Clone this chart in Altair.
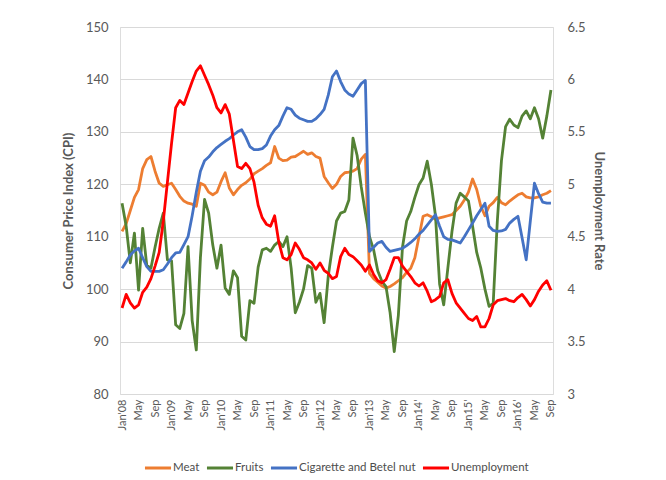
import json
import altair as alt
import pandas as pd

FONT = "Lato"
GREY = "#595959"

tick_labels = ["Jan'08", "May", "Sep", "Jan'09", "May", "Sep", "Jan'10", "May", "Sep",
               "Jan'11", "May", "Sep", "Jan'12", "May", "Sep", "Jan'13", "May", "Sep",
               "Jan14'", "May", "Sep", "Jan15'", "May", "Sep", "Jan16'", "May", "Sep"]

series_names = ["Meat", "Fruits", "Cigarette and Betel nut", "Unemployment"]
series_colors = ["#ED7D31", "#548235", "#4472C4", "#FF0000"]

meat = [111, 112.5, 115, 117.5, 119, 123, 124.7, 125.3, 122.5, 120.2,
        119.6, 119.9, 120.2, 119, 117.7, 116.8, 116.4, 116.2, 115.8, 120.2,
        119.8, 118.5, 118, 118.5, 120.5, 122.2, 119.3, 118, 119, 119.8,
        120.3, 121, 122, 122.5, 123, 123.6, 124.1, 127.2, 125, 124.5,
        124.6, 125.2, 125.3, 125.8, 126.3, 125.7, 126, 125.3, 125, 121.5,
        120.3, 119.2, 120, 121.5, 122.2, 122.3, 122.5, 123, 124.8, 125.7,
        103, 102, 101.3, 100.6, 100.2, 100.5, 101, 101.6, 102.2, 103.2,
        104, 106, 110, 113.9, 114.2, 113.8, 113.3, 113.6, 113.8, 114,
        114.2, 115, 115.8, 117, 118.5, 121, 119, 115.8, 114, 115.8,
        116.5, 117.5, 116.5, 116.1, 116.8, 117.4, 118, 118.3, 117.6, 117.4,
        117.4, 117.6, 118, 118.3, 118.8]

fruits = [116.4, 112, 105, 110.7, 99.8, 111.6, 104.5, 104, 108, 111.6,
          114.5, 105.6, 105.4, 93.2, 92.5, 95.4, 108.1, 94, 88.4, 106,
          117.1, 114.5, 108.4, 104, 108.4, 100.2, 99, 103.5, 102.2, 91,
          90.3, 97.8, 97.3, 104.2, 107.5, 107.8, 107.2, 108.4, 109.1, 108.1,
          110, 104, 95.5, 97.5, 100, 104.5, 104, 97.5, 99.2, 93.6,
          102.5, 108, 113, 114.5, 114.8, 117, 128.8, 125.5, 119.5, 114.5,
          110, 107.5, 103.5, 101.5, 100.5, 95.5, 88.1, 95, 108, 113,
          114.8, 117.5, 119.9, 121.2, 124.4, 120, 114, 101, 97, 104,
          111, 116.4, 118.3, 117.6, 116.8, 112, 107, 104, 100, 96.7,
          97.3, 113, 124.5, 131, 132.4, 131.3, 130.8, 133, 134, 132.5,
          134.6, 132.5, 128.8, 133, 138]

cigarette = [104, 105.2, 106.5, 107.3, 107.8, 106, 104.3, 103.4, 103.4, 103.4,
             103.7, 104.8, 106, 106.9, 107, 108.5, 110, 114, 118.5, 122.5,
             124.5, 125.2, 126.2, 127, 127.6, 128.2, 128.7, 129.4, 130, 130.4,
             129, 127.2, 126.6, 126.6, 126.8, 127.5, 129.2, 130.4, 131.2, 133,
             134.6, 134.3, 133.2, 132.6, 132.3, 132, 132, 132.5, 133.3, 134.3,
             137, 140.5, 141.6, 139.6, 138, 137.2, 136.8, 138, 139.2, 139.8,
             107.2, 108, 108.8, 109.1, 108, 107.2, 107.4, 107.6, 107.8, 108.3,
             108.9, 109.6, 110.5, 111.2, 112.2, 113.2, 114.2, 112, 110, 109.5,
             109.4, 109.1, 108.8, 110, 111.3, 112.6, 114, 115.2, 116.4, 112,
             111.2, 111, 111.1, 111.4, 112.6, 113.3, 113.9, 109.8, 105.6, 113,
             120.2, 118.2, 116.6, 116.4, 116.4]

unemployment = [3.82, 3.95, 3.87, 3.82, 3.85, 3.97, 4.02, 4.10, 4.22, 4.35,
                4.65, 5.02, 5.39, 5.73, 5.80, 5.76, 5.87, 5.98, 6.08, 6.13,
                6.04, 5.95, 5.85, 5.73, 5.68, 5.76, 5.67, 5.42, 5.17, 5.15,
                5.20, 5.15, 5.02, 4.80, 4.68, 4.62, 4.60, 4.70, 4.45, 4.30,
                4.28, 4.33, 4.44, 4.38, 4.30, 4.28, 4.25, 4.19, 4.25, 4.18,
                4.15, 4.10, 4.12, 4.31, 4.39, 4.33, 4.31, 4.27, 4.23, 4.17,
                4.23, 4.14, 4.08, 4.06, 4.09, 4.19, 4.30, 4.30, 4.22, 4.17,
                4.12, 4.06, 4.03, 4.06, 3.98, 3.88, 3.90, 3.93, 4.06, 4.09,
                3.96, 3.87, 3.82, 3.77, 3.72, 3.70, 3.74, 3.64, 3.64, 3.72,
                3.85, 3.89, 3.90, 3.91, 3.89, 3.88, 3.92, 3.95, 3.90, 3.84,
                3.90, 3.98, 4.04, 4.08, 3.99]

n = len(meat)
months = list(range(n))

df_left = pd.DataFrame({
    "month": months * 3,
    "value": meat + fruits + cigarette,
    "series": [series_names[0]] * n + [series_names[1]] * n + [series_names[2]] * n,
    "order": [0] * n + [1] * n + [2] * n,
})
df_right = pd.DataFrame({
    "month": months,
    "value": unemployment,
    "series": [series_names[3]] * n,
})

label_expr = "[" + ",".join(json.dumps(t) for t in tick_labels) + "][round(datum.value/4)]"

x_enc = alt.X(
    "month:Q",
    scale=alt.Scale(domain=[-0.5, n - 0.5], nice=False, zero=False),
    axis=alt.Axis(values=list(range(0, n, 4)), labelExpr=label_expr, labelAngle=-90,
                  grid=False, ticks=False, tickSize=0, domain=False, labelPadding=5,
                  labelFontSize=11, labelColor=GREY, labelFont=FONT, title=None,
                  labelOverlap=False, labelFlush=False, labelBound=False),
)

legend = alt.Legend(title=None, orient="none", legendX=23, legendY=426,
                    direction="horizontal", symbolType="stroke", symbolStrokeWidth=3,
                    symbolSize=680, labelFontSize=11.5, labelFont=FONT, labelColor="#4D4D4D",
                    labelFontWeight="normal", labelOffset=0, columnPadding=0)

color_enc = alt.Color("series:N", scale=alt.Scale(domain=series_names, range=series_colors),
                      legend=legend)

left = alt.Chart(df_left).mark_line(strokeWidth=2.8, strokeJoin="round").encode(
    x=x_enc,
    y=alt.Y("value:Q", scale=alt.Scale(domain=[80, 150], nice=False, zero=False),
            axis=alt.Axis(values=list(range(80, 151, 10)), title="Consumer Price Index (CPI)",
                          grid=True, gridColor="#D9D9D9", gridWidth=1, domain=False,
                          ticks=False, tickSize=0, labelPadding=12, labelFontSize=13,
                          labelFont=FONT, labelColor=GREY, titleFont=FONT, titleFontSize=13,
                          titleFontWeight="bold", titleColor=GREY, titlePadding=10)),
    color=color_enc,
    order=alt.Order("order:Q"),
)

right = alt.Chart(df_right).mark_line(strokeWidth=2.8, strokeJoin="round").encode(
    x=x_enc,
    y=alt.Y("value:Q", scale=alt.Scale(domain=[3, 6.5], nice=False, zero=False),
            axis=alt.Axis(values=[3, 3.5, 4, 4.5, 5, 5.5, 6, 6.5], format="~g", orient="right",
                          title="Unemployment Rate", grid=False, domain=False, ticks=False,
                          tickSize=0, labelPadding=14, labelFontSize=13, labelFont=FONT,
                          labelColor=GREY, titleFont=FONT, titleFontSize=13,
                          titleFontWeight="bold", titleColor=GREY, titlePadding=6)),
    color=color_enc,
)

chart = alt.layer(left, right).resolve_scale(y="independent").properties(
    width=433, height=367,
    autosize=alt.AutoSizeParams(type="none"),
    padding={"left": 112, "top": 19, "right": 100, "bottom": 84},
).configure_view(stroke=None).configure(background="white")

chart.save("out.html", embed_options={"renderer": "svg", "actions": False})
